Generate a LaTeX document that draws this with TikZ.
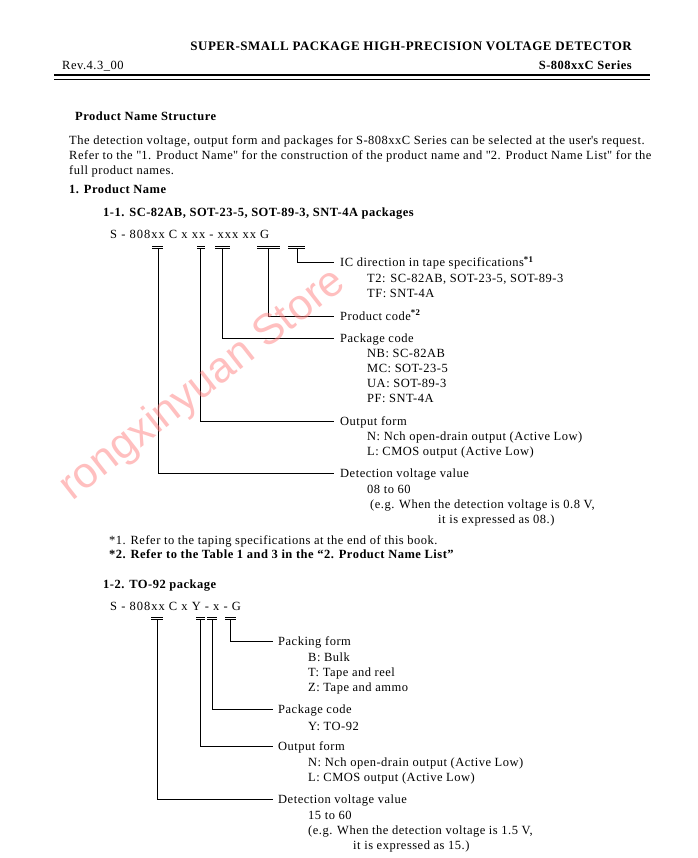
\documentclass[tikz,border=0pt]{standalone}
\usepackage{fontspec}
\setmainfont{Liberation Serif}[LetterSpace=4]
\setsansfont{Liberation Sans}
\usetikzlibrary{positioning}
\newcommand{\txtsize}{\fontsize{12.5}{15}\selectfont}
\newcommand{\codesize}{\txtsize\addfontfeature{LetterSpace=8}}

\begin{document}
\begin{tikzpicture}[x=1pt, y=-1pt,
        plain/.style={anchor=base west, inner sep=0pt, font=\txtsize},
        bold/.style={plain, font=\txtsize\bfseries},
        code/.style={plain, font=\codesize},
        label/.style={anchor=west, inner xsep=6pt, inner ysep=0pt, text height=8pt, text depth=0pt, font=\txtsize},
        items/.style={anchor=base west, inner sep=0pt, align=left, font=\txtsize},
        bar/.style={double=white, double distance=1.5pt, line width=0.9pt},
        link/.style={line width=1pt}
    ]
        \useasboundingbox[fill=white] (0,0) rectangle (697,858);

        % Header
        \node[bold, anchor=base east, font=\fontsize{13}{15}\selectfont\bfseries] (title) at (632,51) {SUPER-SMALL PACKAGE HIGH-PRECISION VOLTAGE DETECTOR};
        \node[plain] (rev) at (62,70) {Rev.4.3\_00};
        \node[bold, anchor=base east] (series) at (632,70) {S-808xxC Series};
        \draw[line width=2pt] (54,75.5) -- (650,75.5);
        \draw[line width=1pt] (54,79.5) -- (650,79.5);

        % Intro (base = last line)
        \node[bold] (struct) at (75,121) {Product Name Structure};
        \node[items] (intro) at (69,175) {The detection voltage, output form and packages for S-808xxC Series can be selected at the user\textquotesingle s request.\\
            Refer to the \textquotedbl 1. Product Name\textquotedbl\ for the construction of the product name and \textquotedbl 2. Product Name List\textquotedbl\ for the\\
            full product names.};
        \node[bold] (sec1) at (69,194) {1. Product Name};

        % 1-1
        \node[bold] (sub1) at (103,217) {1-1. SC-82AB, SOT-23-5, SOT-89-3, SNT-4A packages};
        \node[code] (code1) at (110,239) {S - 808xx C x xx - xxx xx G};
        \foreach \a/\b in {152/163, 197/205, 215/230, 257/280, 288/305}
            \draw[bar] (\a,247.5) -- (\b,247.5);
        \coordinate (aVolt) at (158,249);
        \coordinate (aOut) at (200,249);
        \coordinate (aPkg) at (222,249);
        \coordinate (aProd) at (268,249);
        \coordinate (aTape) at (297,249);

        \node[label] (lTape) at (334,263) {IC direction in tape specifications\textsuperscript{\bfseries *1}};
        \node[items] (iTape) at (367,297) {T2: SC-82AB, SOT-23-5, SOT-89-3\\ TF: SNT-4A};
        \node[label] (lProd) at (334,316) {Product code\textsuperscript{\bfseries *2}};
        \node[label] (lPkg) at (334,338) {Package code};
        \node[items] (iPkg) at (367,402) {NB: SC-82AB\\ MC: SOT-23-5\\ UA: SOT-89-3\\ PF: SNT-4A};
        \node[label] (lOut) at (334,421) {Output form};
        \node[items] (iOut) at (367,455) {N: Nch open-drain output (Active Low)\\ L: CMOS output (Active Low)};
        \node[label] (lVolt) at (334,473) {Detection voltage value};
        \node[plain] (iVolt) at (367,493) {08 to 60};
        \node[plain] (eVolt) at (370,508) {(e.g. When the detection voltage is 0.8 V,};
        \node[plain] (fVolt) at (438,523) {it is expressed as 08.)};

        \draw[link] (aTape) |- (lTape.west);
        \draw[link] (aProd) |- (lProd.west);
        \draw[link] (aPkg) |- (lPkg.west);
        \draw[link] (aOut) |- (lOut.west);
        \draw[link] (aVolt) |- (lVolt.west);

        % Notes
        \node[plain] (note1) at (109,544) {*1. Refer to the taping specifications at the end of this book.};
        \node[bold] (note2) at (109,558) {*2. Refer to the Table 1 and 3 in the “2. Product Name List”};

        % 1-2
        \node[bold] (sub2) at (103,588) {1-2. TO-92 package};
        \node[code] (code2) at (110,610) {S - 808xx C x Y - x - G};
        \foreach \a/\b in {151/163, 196/205, 207/217, 225/236}
            \draw[bar] (\a,618.5) -- (\b,618.5);
        \coordinate (bVolt) at (157,620);
        \coordinate (bOut) at (200,620);
        \coordinate (bPkg) at (212,620);
        \coordinate (bPack) at (230,620);

        \node[label, inner xsep=5pt] (mPack) at (273,641) {Packing form};
        \node[items] (jPack) at (308,691) {B: Bulk\\ T: Tape and reel\\ Z: Tape and ammo};
        \node[label, inner xsep=5pt] (mPkg) at (273,709) {Package code};
        \node[plain] (jPkg) at (308,730) {Y: TO-92};
        \node[label, inner xsep=5pt] (mOut) at (273,746) {Output form};
        \node[items] (jOut) at (308,781) {N: Nch open-drain output (Active Low)\\ L: CMOS output (Active Low)};
        \node[label, inner xsep=5pt] (mVolt) at (273,799) {Detection voltage value};
        \node[plain] (jVolt) at (308,819) {15 to 60};
        \node[plain] (eVolt2) at (308,834) {(e.g. When the detection voltage is 1.5 V,};
        \node[plain] (fVolt2) at (353,849) {it is expressed as 15.)};

        \draw[link] (bPack) |- (mPack.west);
        \draw[link] (bPkg) |- (mPkg.west);
        \draw[link] (bOut) |- (mOut.west);
        \draw[link] (bVolt) |- (mVolt.west);

        % Watermark
        \node[font=\sffamily\fontsize{43}{43}\selectfont, text=red!50, opacity=0.5, rotate=38] (mark) at (203,385) {rongxinyuan Store};
    \end{tikzpicture}
\end{document}
